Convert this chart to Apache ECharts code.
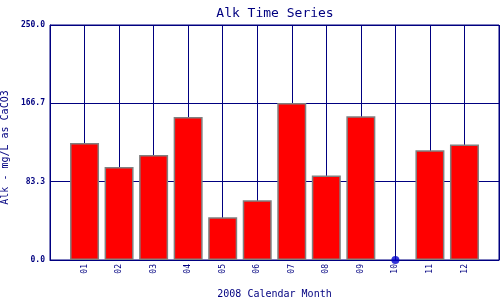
<!DOCTYPE html>
<html>
<head>
<meta charset="utf-8">
<script src="https://cdn.jsdelivr.net/npm/echarts/dist/echarts.min.js"></script>
<style>html,body{margin:0;padding:0;background:#fff;}#c{width:500px;height:300px;}</style>
</head>
<body>
<div id="c"></div>
<script>
const months = [1,2,3,4,5,6,7,8,9,10,11,12];
const alkValues = [124.5, 98.9, 111.7, 152.0, 45.4, 63.5, 167.0, 90.0, 153.0, null, 116.7, 123.0];
const zeroPoints = [10];

const navy = '#000080';
const mono = 'DejaVu Sans Mono';
const chart = echarts.init(document.getElementById('c'), null, {renderer: 'canvas'});
chart.setOption({
  animation: false,
  backgroundColor: '#ffffff',
  title: {
    text: 'Alk Time Series',
    left: 270, top: 2, textAlign: 'center',
    textStyle: {fontFamily: mono, fontSize: 13, fontWeight: 'normal', color: navy}
  },
  grid: {left: 50, right: 1, top: 25, bottom: 40, show: true, borderColor: navy, borderWidth: 1,
    containLabel: false, outerBoundsMode: 'none'},
  xAxis: {
    type: 'value', min: 0, max: months.length + 1, interval: 1,
    name: '2008 Calendar Month', nameLocation: 'middle', nameGap: 29,
    nameTextStyle: {fontFamily: mono, fontSize: 10, color: navy},
    axisLine: {lineStyle: {color: navy, width: 1}},
    axisTick: {show: false},
    splitLine: {show: true, lineStyle: {color: navy, width: 1}},
    axisLabel: {
      rotate: 90, margin: 4, fontFamily: mono, fontSize: 8, color: navy,
      formatter: v => (v >= 1 && v <= months.length) ? String(months[v-1]).padStart(2, '0') : ''
    }
  },
  yAxis: {
    type: 'value', min: 0, max: 250, interval: 250/3,
    name: 'Alk - mg/L as CaCO3', nameLocation: 'middle', nameGap: 38,
    nameTextStyle: {fontFamily: mono, fontSize: 10, color: navy, padding: [0, 10, 0, 0]},
    axisLine: {show: true, lineStyle: {color: navy, width: 1}},
    axisTick: {show: false},
    splitLine: {show: true, lineStyle: {color: navy, width: 1}},
    axisLabel: {margin: 5, fontFamily: mono, fontSize: 8, fontWeight: 'bold', color: navy,
      formatter: v => v.toFixed(1)}
  },
  series: [
    {
      type: 'bar', barWidth: 29,
      data: months.map((m, i) => [m, alkValues[i]]),
      itemStyle: {color: '#ff0000', borderColor: '#808080', borderWidth: 1.5}
    },
    {
      type: 'scatter', symbol: 'circle', symbolSize: 8, clip: false, z: 5,
      data: zeroPoints.map(m => [m, 0]),
      itemStyle: {color: '#0000cc'}
    }
  ]
});
</script>
</body>
</html>
